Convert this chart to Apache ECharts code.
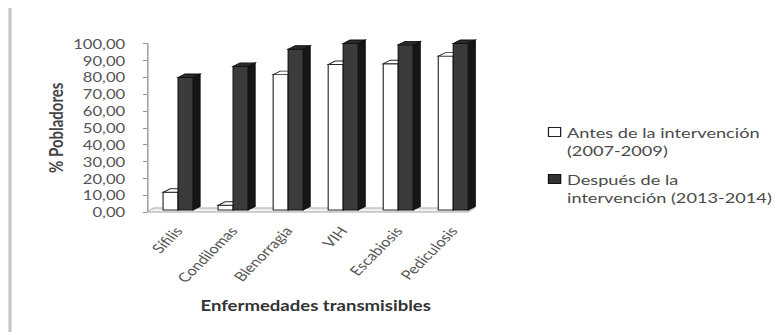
<!DOCTYPE html>
<html>
<head>
<meta charset="utf-8">
<script src="https://cdn.jsdelivr.net/npm/echarts@6/dist/echarts.min.js"></script>
<style>
  html, body { margin: 0; padding: 0; background: #fff; overflow: hidden; }
  /* the chart is laid out narrow and widened, like the stretched spreadsheet export */
  #chart { width: 605.5px; height: 332px; transform: scaleX(1.28); transform-origin: 0 0; }
</style>
</head>
<body>
<div id="chart"></div>
<script>
// Diseases on the category axis
const categories = ['Sífilis', 'Condilomas', 'Blenorragia', 'VIH', 'Escabiosis', 'Pediculosis'];
// % of residents, before and after the intervention
const antes = [11.7, 4.0, 81.5, 87.5, 88.0, 92.5];
const despues = [79.8, 86.4, 96.6, 100, 99.2, 100];
const seriesNames = ['Antes de la intervención\n(2007-2009)', 'Después de la\nintervención (2013-2014)'];
// value axis ticks
const yMin = 0, yMax = 100, yStep = 10;

const FONT = 'Lato';

// faces of the pseudo-3D columns
const whiteFaces = { front: '#ffffff', side: '#e6e6e6', top: '#ffffff', line: '#2a2a2a' };
const darkFaces = { front: '#3b3b3b', side: '#161616', top: '#2b2b2b', line: '#111111' };

function bar3d(side, faces) {
  return function (params, api) {
    const cat = api.value(0), val = api.value(1);
    const top = api.coord([cat, val]);
    const base = api.coord([cat, 0]);
    const band = api.size([1, 0])[0];
    const fw = band * 0.272, dx = fw * 0.47, dy = 3.5;
    const x0 = side < 0 ? top[0] - fw : top[0];
    const x1 = x0 + fw;
    const yt = top[1], yb = base[1] - 2;
    const lw = 0.9;
    return {
      type: 'group',
      children: [
        { type: 'polygon', shape: { points: [[x1, yt], [x1 + dx, yt - dy], [x1 + dx, yb - dy], [x1, yb]] },
          style: { fill: faces.side, stroke: faces.line, lineWidth: lw } },
        { type: 'rect', shape: { x: x0, y: yt, width: fw, height: yb - yt },
          style: { fill: faces.front, stroke: faces.line, lineWidth: lw } },
        { type: 'polygon', shape: { points: [[x0, yt], [x1, yt], [x1 + dx, yt - dy], [x0 + dx, yt - dy]] },
          style: { fill: faces.top, stroke: faces.line, lineWidth: lw } }
      ]
    };
  };
}

// thin floor plate under the columns
function floor(params, api) {
  const cs = params.coordSys;
  const yb = cs.y + cs.height;
  const xl = cs.x - 2.8, xr = cs.x + cs.width - 10;
  return {
    type: 'polygon',
    shape: { points: [[xl, yb], [xr, yb], [xr + 5, yb - 4], [xl + 5, yb - 4]] },
    style: { fill: '#f0f0f0', stroke: '#a8a8a8', lineWidth: 0.8 }
  };
}

const chart = echarts.init(document.getElementById('chart'), null, { renderer: 'svg' });

chart.setOption({
  backgroundColor: '#ffffff',
  animation: false,
  textStyle: { fontFamily: FONT },
  graphic: [
    { type: 'line', shape: { x1: 7.8, y1: 8, x2: 7.8, y2: 332 },
      style: { stroke: '#c4c4c4', lineWidth: 2.4 } }
  ],
  grid: { left: 117.6, width: 258, top: 43.5, bottom: 120 },
  legend: {
    orient: 'vertical',
    left: 428,
    top: 105,
    padding: 0,
    itemWidth: 9.5,
    itemHeight: 9,
    itemGap: -7,
    icon: 'rect',
    selectedMode: false,
    // a leading empty line keeps the marker level with the first text line
    formatter: name => '\n' + name,
    textStyle: { fontFamily: FONT, fontSize: 14.2, color: '#4a4a4a', lineHeight: 18 },
    data: [
      { name: seriesNames[0], itemStyle: { color: '#ffffff', borderColor: '#222', borderWidth: 1 } },
      { name: seriesNames[1], itemStyle: { color: '#333333', borderColor: '#111', borderWidth: 1 } }
    ]
  },
  xAxis: {
    type: 'category',
    data: categories,
    axisLine: { show: false },
    axisTick: { show: false },
    axisLabel: { interval: 0, rotate: 52, margin: 16, fontFamily: FONT, fontSize: 13, color: '#555' },
    name: 'Enfermedades transmisibles',
    nameLocation: 'middle',
    nameGap: 86,
    nameTextStyle: { fontFamily: FONT, fontSize: 14.5, fontWeight: 'bold', color: '#333' }
  },
  yAxis: {
    type: 'value',
    min: yMin,
    max: yMax,
    interval: yStep,
    offset: 2.8,
    axisLine: { show: true, lineStyle: { color: '#8c8c8c', width: 1 } },
    axisTick: { show: true, length: 3, lineStyle: { color: '#8c8c8c' } },
    splitLine: { show: false },
    axisLabel: {
      margin: 17,
      fontFamily: FONT, fontSize: 13, color: '#555',
      formatter: v => v.toFixed(2).replace('.', ',')
    },
    name: '% Pobladores',
    nameLocation: 'middle',
    nameGap: 64,
    nameTextStyle: { fontFamily: FONT, fontSize: 15, fontWeight: 'bold', color: '#444' }
  },
  series: [
    { type: 'custom', name: 'floor', renderItem: floor, data: [[0, 0]], silent: true, z: 1 },
    {
      type: 'custom', name: seriesNames[0], renderItem: bar3d(-1, whiteFaces),
      itemStyle: { color: '#ffffff', borderColor: '#222' },
      encode: { x: 0, y: 1 },
      data: antes.map((v, i) => [i, v]), z: 2
    },
    {
      type: 'custom', name: seriesNames[1], renderItem: bar3d(1, darkFaces),
      itemStyle: { color: '#333333', borderColor: '#111' },
      encode: { x: 0, y: 1 },
      data: despues.map((v, i) => [i, v]), z: 3
    }
  ]
});
</script>
</body>
</html>
